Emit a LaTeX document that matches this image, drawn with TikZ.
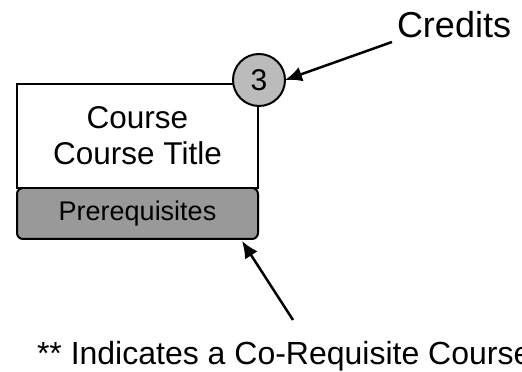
\documentclass[tikz,border=0pt]{standalone}
\usepackage{fontspec}
\setmainfont{Liberation Sans}
\usetikzlibrary{arrows.meta}

\definecolor{creditgray}{RGB}{187,187,187}
\definecolor{prereqgray}{RGB}{153,153,153}

\begin{document}
\begin{tikzpicture}[x=1pt,y=1pt,
	coursebox/.style={draw,line width=2pt,minimum width=241pt,inner sep=0,outer sep=0},
	creditcircle/.style={draw,circle,line width=2pt,fill=creditgray,inner sep=0,outer sep=0,minimum size=52pt},
	callout/.style={line width=2.5pt,-{Latex[length=17pt,width=15pt]}},
	label/.style={inner sep=0,outer sep=0}]
	\useasboundingbox (0,0) rectangle (522,372);
	\node[coursebox,fill=prereqgray,rounded corners=6pt,minimum height=51pt,font=\fontsize{27}{32}\selectfont] (prereq) at (137.5,158.5) {Prerequisites};
	\node[coursebox,fill=white,minimum height=104pt,align=center,font=\fontsize{31.5}{36}\selectfont] (title) at (137.5,236) {Course\\Course Title};
	\node[creditcircle,font=\fontsize{30}{34}\selectfont] (credit) at (259,292) {3};
	\node[label,anchor=base west,font=\fontsize{36}{40}\selectfont] (credits) at (397,334) {Credits};
	\node[label,anchor=base west,font=\fontsize{32}{38}\selectfont] (coreq) at (37,7) {** Indicates a Co-Requisite Course};
	\coordinate (creditstail) at (392,330);
	\coordinate (coreqtail) at (293,52);
	\coordinate (coreqtip) at (242,131);
	\draw[callout] (creditstail) -- (credit.east);
	\draw[callout] (coreqtail) -- (coreqtip);
\end{tikzpicture}
\end{document}
